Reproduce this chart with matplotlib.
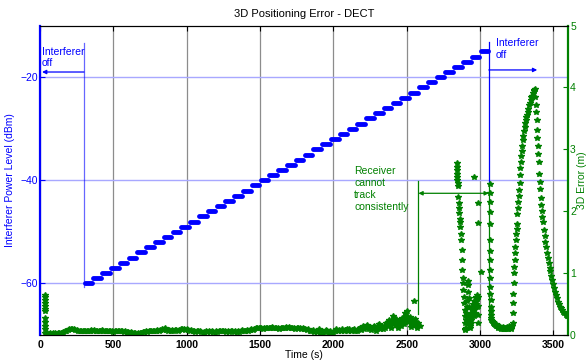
import matplotlib.pyplot as plt
import numpy as np

plt.rcParams['font.family'] = ['Liberation Sans', 'DejaVu Sans']

# interferer power steps (dBm), one step per minute
step_t = [300, 360, 420, 480, 540, 600, 660, 720, 780, 840, 900, 960, 1020, 1080,
          1140, 1200, 1260, 1320, 1380, 1440, 1500, 1560, 1620, 1680, 1740, 1800,
          1860, 1920, 1980, 2040, 2100, 2160, 2220, 2280, 2340, 2400, 2460, 2520,
          2580, 2640, 2700, 2760, 2820, 2880, 2940, 3000]
step_lvl = [-60, -59, -58, -57, -56, -55, -54, -53, -52, -51, -50, -49, -48, -47,
            -46, -45, -44, -43, -42, -41, -40, -39, -38, -37, -36, -35, -34, -33,
            -32, -31, -30, -29, -28, -27, -26, -25, -24, -23, -22, -21, -20, -19,
            -18, -17, -16, -15]

# 3D error (m) - start-up spike
spike_t = [33, 33, 33, 33, 33, 33, 34, 36, 36, 36, 36, 37]
spike_v = [0.65, 0.61, 0.57, 0.52, 0.47, 0.42, 0.38, 0.27, 0.21, 0.15, 0.09, 0.04]

# 3D error - tracking baseline, every 10 s from 50 s
base_t = np.arange(50, 2600, 10)
base_v = [0.03, 0.02, 0.03, 0.02, 0.03, 0.03, 0.02, 0.03, 0.04, 0.03,
          0.04, 0.05, 0.06, 0.07, 0.08, 0.09, 0.09, 0.10, 0.09, 0.08,
          0.08, 0.07, 0.07, 0.06, 0.07, 0.06, 0.07, 0.07, 0.06, 0.07,
          0.08, 0.07, 0.08, 0.07, 0.07, 0.06, 0.07, 0.08, 0.07, 0.06,
          0.07, 0.06, 0.06, 0.07, 0.06, 0.05, 0.06, 0.07, 0.06, 0.06,
          0.07, 0.06, 0.05, 0.06, 0.05, 0.05, 0.04, 0.05, 0.04, 0.03,
          0.03, 0.02, 0.03, 0.03, 0.04, 0.05, 0.05, 0.06, 0.05, 0.06,
          0.07, 0.06, 0.07, 0.06, 0.07, 0.08, 0.07, 0.08, 0.09, 0.08,
          0.11, 0.08, 0.07, 0.08, 0.07, 0.08, 0.07, 0.08, 0.08, 0.07,
          0.08, 0.09, 0.09, 0.10, 0.08, 0.09, 0.08, 0.07, 0.08, 0.06,
          0.06, 0.05, 0.06, 0.07, 0.06, 0.05, 0.04, 0.05, 0.06, 0.05,
          0.06, 0.05, 0.07, 0.05, 0.04, 0.06, 0.05, 0.06, 0.07, 0.06,
          0.07, 0.06, 0.05, 0.06, 0.05, 0.07, 0.06, 0.05, 0.06, 0.05,
          0.06, 0.05, 0.06, 0.08, 0.06, 0.07, 0.08, 0.07, 0.08, 0.09,
          0.08, 0.10, 0.11, 0.12, 0.11, 0.12, 0.11, 0.10, 0.12, 0.11,
          0.12, 0.11, 0.12, 0.13, 0.12, 0.11, 0.12, 0.11, 0.10, 0.11,
          0.12, 0.11, 0.12, 0.13, 0.12, 0.13, 0.12, 0.11, 0.12, 0.10,
          0.11, 0.12, 0.11, 0.10, 0.11, 0.10, 0.09, 0.08, 0.09, 0.07,
          0.06, 0.08, 0.05, 0.07, 0.05, 0.09, 0.04, 0.06, 0.03, 0.05,
          0.08, 0.06, 0.04, 0.06, 0.03, 0.05, 0.07, 0.09, 0.06, 0.08,
          0.07, 0.09, 0.06, 0.08, 0.10, 0.07, 0.09, 0.06, 0.08, 0.10,
          0.07, 0.06, 0.09, 0.12, 0.08, 0.14, 0.09, 0.12, 0.16, 0.10,
          0.13, 0.08, 0.11, 0.15, 0.07, 0.12, 0.18, 0.10, 0.14, 0.09,
          0.12, 0.20, 0.14, 0.24, 0.12, 0.19, 0.30, 0.16, 0.26, 0.11,
          0.22, 0.14, 0.27, 0.17, 0.35, 0.38, 0.21, 0.29, 0.13, 0.24,
          0.18, 0.26, 0.12, 0.20, 0.15]

# 3D error - loss of tracking, scattered fixes
lost_t = [2553,
          2843, 2843, 2844, 2844, 2845, 2846,
          2847, 2849, 2853, 2855, 2857, 2859, 2861, 2862, 2865, 2868, 2871, 2874,
          2876, 2878, 2881, 2884, 2886, 2888, 2891, 2895, 2899,
          2896, 2898, 2900, 2902, 2904, 2906, 2908, 2910, 2912, 2914, 2916, 2918,
          2920, 2922, 2924, 2926, 2928, 2930, 2932, 2934, 2936, 2938, 2940, 2942,
          2944, 2946, 2948, 2950, 2952, 2954, 2956, 2958, 2960, 2962, 2964, 2966,
          2968, 2970, 2972, 2974, 2976, 2978, 2980, 2982,
          2960, 2988, 2988, 3006, 2988, 2988, 2989, 2989]
lost_v = [0.55,
          2.78, 2.72, 2.66, 2.60, 2.55, 2.50,
          2.45, 2.40, 2.23, 2.13, 2.05, 1.97, 1.88, 1.83, 1.75, 1.64, 1.53, 1.37,
          1.21, 1.05, 0.92, 0.84, 0.73, 0.62, 0.51, 0.40, 0.30,
          0.10, 0.19, 0.08, 0.25, 0.12, 0.35, 0.20, 0.45, 0.30, 0.55, 0.70, 0.87,
          0.80, 0.60, 0.45, 0.30, 0.20, 0.15, 0.25, 0.12, 0.30, 0.20, 0.35, 0.25,
          0.40, 0.30, 0.45, 0.35, 0.50, 0.40, 0.55, 0.45, 0.30, 0.40, 0.35, 0.50,
          0.45, 0.60, 0.55, 0.62, 0.50, 0.65, 0.58, 0.45,
          2.56, 2.14, 1.81, 1.02, 0.62, 0.47, 0.32, 0.20]

# 3D error - after interferer switched off
recov_t = [3068, 3068, 3069, 3069, 3069, 3070, 3070, 3070, 3071, 3071, 3071, 3071,
           3072, 3072, 3072, 3073, 3074,
           3078, 3082, 3086, 3090, 3094, 3098, 3102, 3106, 3110, 3114, 3118, 3122,
           3126, 3130, 3134, 3138, 3142, 3146, 3150, 3154, 3158, 3162, 3166, 3170,
           3174, 3178, 3182, 3186, 3190, 3194, 3198, 3202, 3206, 3210, 3214, 3218,
           3222]
recov_v = [2.44, 2.30, 2.15, 1.99, 1.80, 1.53, 1.35, 1.21, 1.05, 0.92, 0.78, 0.67,
           0.57, 0.46, 0.38, 0.32, 0.27,
           0.25, 0.22, 0.21, 0.19, 0.18, 0.17, 0.16, 0.17, 0.15, 0.14, 0.15, 0.13,
           0.12, 0.14, 0.11, 0.13, 0.10, 0.12, 0.11, 0.13, 0.10, 0.12, 0.09, 0.11,
           0.12, 0.09, 0.11, 0.13, 0.10, 0.12, 0.14, 0.11, 0.13, 0.10, 0.12, 0.15,
           0.20]

peak_t = [3224, 3226, 3228, 3230, 3232, 3234, 3236, 3238, 3240, 3243, 3246, 3249,
          3252, 3255, 3258, 3261, 3264, 3267, 3270, 3273, 3276, 3279, 3282, 3285,
          3288, 3292, 3296, 3300, 3304, 3308, 3312, 3316, 3320, 3325, 3330, 3335,
          3340, 3345, 3350, 3355, 3360, 3365, 3370, 3374,
          3377, 3380, 3383, 3386, 3389, 3392, 3395, 3398, 3401, 3404, 3407, 3410,
          3414, 3418, 3422, 3426, 3430, 3435, 3440, 3445, 3450, 3456, 3462, 3468,
          3474, 3480, 3486, 3492, 3498, 3504, 3510, 3517, 3524, 3531, 3538, 3545,
          3552, 3560, 3568, 3576, 3584, 3592, 3600]
peak_v = [0.35, 0.51, 0.67, 0.84, 1.00, 1.10, 1.21, 1.32, 1.43, 1.53, 1.64, 1.72,
          1.80, 1.95, 2.05, 2.15, 2.25, 2.35, 2.45, 2.58, 2.70, 2.80, 2.90, 2.98,
          3.05, 3.15, 3.22, 3.30, 3.36, 3.42, 3.47, 3.52, 3.56, 3.61, 3.66, 3.71,
          3.75, 3.80, 3.84, 3.87, 3.91, 3.94, 3.96, 3.97,
          3.85, 3.72, 3.60, 3.48, 3.32, 3.18, 3.05, 2.93, 2.80, 2.60, 2.48, 2.36,
          2.22, 2.10, 2.00, 1.90, 1.82, 1.70, 1.60, 1.50, 1.42, 1.33, 1.25, 1.17,
          1.09, 1.03, 0.96, 0.89, 0.82, 0.76, 0.70, 0.64, 0.59, 0.54, 0.50, 0.46,
          0.43, 0.40, 0.37, 0.35, 0.33, 0.31, 0.30]

xticks = [0, 500, 1000, 1500, 2000, 2500, 3000, 3500]
left_ticks = [-60, -40, -20]
right_ticks = [0, 1, 2, 3, 4, 5]

blue = '#0000ff'
green = '#008000'
fs = 7.5

fig = plt.figure(figsize=(5.87, 3.62), dpi=100)
ax = fig.add_axes([40 / 587, 27 / 362, 528 / 587, 309.4 / 362])

# stair steps of the interferer power
for t0, lvl in zip(step_t, step_lvl):
    ax.plot([t0 + 4, t0 + 56], [lvl, lvl], color=blue, lw=3.5,
            solid_capstyle='round', zorder=3)

ax.set_xlim(0, 3600)
ax.set_ylim(-70, -10)
ax.set_xticks(xticks)
ax.set_yticks(left_ticks)
ax.tick_params(axis='x', direction='in', top=True, length=3.5, pad=3.5,
               labelsize=fs)
ax.tick_params(axis='y', direction='in', length=3.5, pad=1.5, labelsize=fs,
               colors=blue)
for lbl in ax.get_xticklabels():
    lbl.set_fontweight('bold')
ax.xaxis.grid(True, color='#8c8c8c', lw=0.9)
ax.yaxis.grid(True, color='#a8a8ff', lw=1.0)
ax.set_axisbelow(True)
ax.spines['left'].set_color(blue)
ax.spines['left'].set_linewidth(1.6)
ax.spines['right'].set_visible(False)
ax.set_xlabel('Time (s)', fontsize=fs, labelpad=0)
ax.set_ylabel('Interferer Power Level (dBm)', fontsize=fs, color=blue,
              labelpad=4)
ax.set_title('3D Positioning Error - DECT', fontsize=8, pad=6)

# interferer off markers
ax.plot([300, 300], [-13.3, -60.7], color=blue, lw=0.9, alpha=0.6)
ax.plot([3060, 3060], [-13.1, -40.6], color=blue, lw=0.9)
ax.annotate('', xy=(14, -19), xytext=(300, -19),
            arrowprops=dict(arrowstyle='-|>', color=blue, lw=0.9,
                            mutation_scale=6, shrinkA=0, shrinkB=0))
ax.annotate('', xy=(3390, -18.6), xytext=(3060, -18.6),
            arrowprops=dict(arrowstyle='-|>', color=blue, lw=0.9,
                            mutation_scale=6, shrinkA=0, shrinkB=0))
ax.text(14, -18.3, 'Interferer\noff', color=blue, fontsize=fs, ha='left',
        va='bottom', linespacing=1.15)
ax.text(3108, -16.6, 'Interferer\noff', color=blue, fontsize=fs, ha='left',
        va='bottom', linespacing=1.15)

# 3D error on the right axis
ax2 = ax.twinx()
mk = dict(color=green, marker='*', ms=4, ls='none')
ax2.plot(base_t, base_v, color=green, lw=2.6, marker='*', ms=4)
ax2.plot(spike_t, spike_v, **mk)
ax2.plot(lost_t, lost_v, **mk)
ax2.plot(recov_t, recov_v, **mk)
ax2.plot(peak_t, peak_v, **mk)

ax2.set_ylim(0, 5)
ax2.set_yticks(right_ticks)
ax2.tick_params(axis='y', direction='in', length=3.5, pad=1.5, labelsize=fs,
                colors=green)
ax2.spines['right'].set_color(green)
ax2.spines['right'].set_linewidth(1.6)
ax2.spines['left'].set_visible(False)
ax2.set_ylabel('3D Error (m)', fontsize=fs, color=green, labelpad=1)

# receiver cannot track bracket
ax2.plot([2580, 2580], [0.34, 2.49], color=green, lw=0.9)
ax2.plot([3060, 3060], [0.24, 2.45], color=green, lw=0.9)
ax2.annotate('', xy=(2580, 2.29), xytext=(3060, 2.29),
             arrowprops=dict(arrowstyle='<|-|>', color=green, lw=0.9,
                             mutation_scale=6, shrinkA=0, shrinkB=0))
ax2.text(2142, 2.73, 'Receiver\ncannot\ntrack\nconsistently', color=green,
         fontsize=fs, ha='left', va='top', linespacing=1.25)

fig.savefig('out.png', dpi=100)
